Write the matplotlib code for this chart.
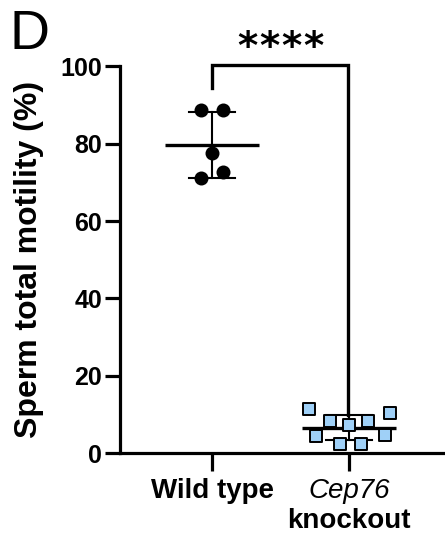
import matplotlib
matplotlib.use('Agg')
import matplotlib.pyplot as plt
import numpy as np

plt.rcParams['font.family'] = ['Liberation Sans', 'DejaVu Sans']

# values
groups = ['Wild type', 'Cep76 knockout']
wt_values = [88.7, 88.7, 77.5, 71.1, 72.6]
wt_offsets = [-0.08, 0.08, 0.0, -0.08, 0.08]
ko_values = [11.4, 8.3, 7.2, 8.3, 10.3, 4.5, 4.8, 2.4, 2.4]
ko_offsets = [-0.29, -0.14, 0.0, 0.14, 0.30, -0.24, 0.26, -0.07, 0.09]
yticks = [0, 20, 40, 60, 80, 100]
significance = '****'

fig = plt.figure(figsize=(4.45, 5.44), dpi=100)
ax = fig.add_axes([0.27, 0.167, 0.73, 0.711])

lw_spine = 2.3


def draw_group(x, values, offsets, marker, face, size):
    values = np.array(values)
    m = values.mean()
    sd = values.std(ddof=1)
    # mean line
    ax.plot([x - 0.345, x + 0.345], [m, m], color='black', lw=2.4,
            solid_capstyle='butt', zorder=2)
    # sd bar
    ax.plot([x, x], [m - sd, m + sd], color='black', lw=1.5, zorder=2)
    for yy in (m - sd, m + sd):
        ax.plot([x - 0.17, x + 0.17], [yy, yy], color='black', lw=1.5,
                zorder=2)
    ax.scatter(x + np.array(offsets), values, marker=marker, s=size,
               facecolor=face, edgecolor='black', linewidths=1.4, zorder=3,
               clip_on=False)


draw_group(0, wt_values, wt_offsets, 'o', 'black', 75)
draw_group(1, ko_values, ko_offsets, 's', '#9fd0f7', 65)

# significance bracket
ax.plot([0, 0, 0.995, 0.995], [94.3, 100.3, 100.3, 9.8], color='black',
        lw=2.4, clip_on=False, solid_joinstyle='miter')
# stars spaced out like the original
star_x = 0.5 + 0.16 * (np.arange(len(significance)) - 1.5)
for sx, ch in zip(star_x, significance):
    ax.text(sx, 104.8, ch, ha='center', va='center', fontsize=28,
            fontweight='bold', family='DejaVu Sans')

ax.set_xlim(-0.672, 1.70)
ax.set_ylim(0, 100)
ax.set_yticks(yticks)
ax.set_yticklabels([str(t) for t in yticks], fontsize=18, fontweight='bold')
ax.set_xticks([0, 1])
ax.set_xticklabels(['', ''])

ax.spines['top'].set_visible(False)
ax.spines['right'].set_visible(False)
ax.spines['left'].set_linewidth(lw_spine)
ax.spines['bottom'].set_linewidth(lw_spine)
ax.tick_params(axis='y', length=11, width=lw_spine, pad=2)
ax.tick_params(axis='x', length=13, width=lw_spine)

ax.set_ylabel('Sperm total motility (%)', fontsize=23, fontweight='bold',
              labelpad=12)

tr = ax.get_xaxis_transform()
ax.text(0, -0.098, 'Wild type', transform=tr, ha='center', va='center',
        fontsize=20, fontweight='bold')
ax.text(1, -0.098, 'Cep76', transform=tr, ha='center', va='center',
        fontsize=20, style='italic')
ax.text(1, -0.176, 'knockout', transform=tr, ha='center', va='center',
        fontsize=20, fontweight='bold')

fig.text(0.022, 0.935, 'D', fontsize=40, ha='left', va='center')
fig.text(0.99, 0.935, 'E', fontsize=40, ha='left', va='center')

fig.savefig('out.png', dpi=100)
